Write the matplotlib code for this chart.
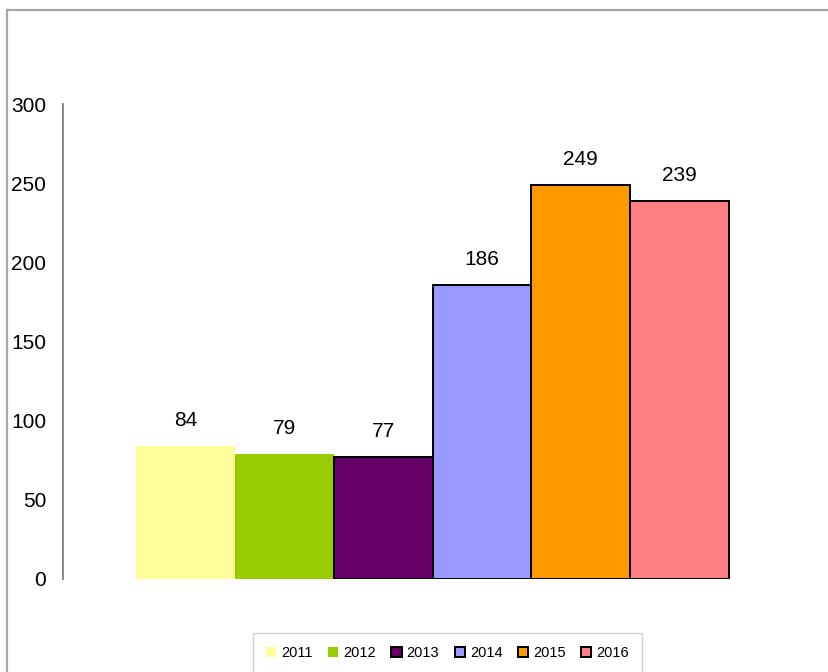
import matplotlib
matplotlib.use('Agg')
import matplotlib.pyplot as plt
from matplotlib.lines import Line2D

plt.rcParams['font.family'] = ['Liberation Sans', 'DejaVu Sans']

years = ['2011', '2012', '2013', '2014', '2015', '2016']
values = [84, 79, 77, 186, 249, 239]
bar_colors = ['#FFFF99', '#99CC00', '#660066', '#9999FF', '#FF9900', '#FF8080']
edge_colors = ['none', 'none', 'black', 'black', 'black', 'black']

W, H = 829, 672
fig = plt.figure(figsize=(W / 100, H / 100), dpi=100)
ax = fig.add_axes([63 / W, 1 - 579 / H, (802 - 63) / W, (579 - 104) / H])

for i, (yr, v) in enumerate(zip(years, values)):
    ax.bar(i, v, width=1, color=bar_colors[i], edgecolor=edge_colors[i],
           linewidth=1.4, label=yr)
    ax.text(i, v + 16, str(v), ha='center', va='center', fontsize=15)

ax.set_xlim(-1.239, 6.239)
ax.set_ylim(0, 300)
ax.set_yticks(range(0, 301, 50))
ax.set_xticks([])
ax.tick_params(axis='y', length=0, pad=12, labelsize=15)
for s in ['top', 'right', 'bottom']:
    ax.spines[s].set_visible(False)
ax.spines['left'].set_color('#808080')
ax.spines['left'].set_linewidth(1.3)

# outer chart frame
fig.add_artist(Line2D([7.5 / W, 7.5 / W], [0, 1 - 9.5 / H], transform=fig.transFigure,
                      color='#A6A6A6', linewidth=1.6))
fig.add_artist(Line2D([7.5 / W, 1], [1 - 9.5 / H, 1 - 9.5 / H], transform=fig.transFigure,
                      color='#A6A6A6', linewidth=1.6))

leg = fig.legend(loc='upper center', bbox_to_anchor=(447.5 / W, 1 - 633 / H), ncol=6,
                 fontsize=10.5, frameon=True, fancybox=False, edgecolor='#C8C8C8',
                 handlelength=0.7, handleheight=0.7, handletextpad=0.35,
                 columnspacing=1.05, borderpad=0.9, borderaxespad=0)
leg.get_frame().set_linewidth(1.0)

fig.savefig('out.png', dpi=100)
